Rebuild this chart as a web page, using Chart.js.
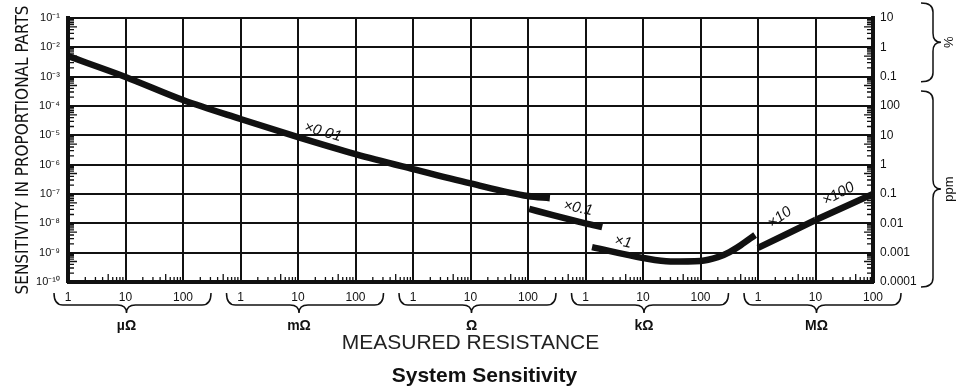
<!DOCTYPE html>
<html>
<head>
<meta charset="utf-8">
<script src="https://cdn.jsdelivr.net/npm/chart.js@4.4.1/dist/chart.umd.min.js"></script>
<style>
  html, body { margin: 0; padding: 0; background: #fff; }
  #wrap { width: 969px; height: 391px; }
</style>
</head>
<body>
<div id="wrap"><canvas id="myChart"></canvas></div>
<script>
// decades on each axis (powers of ten)
const xDecades = [-6, -5, -4, -3, -2, -1, 0, 1, 2, 3, 4, 5, 6, 7, 8];
const yDecades = [-1, -2, -3, -4, -5, -6, -7, -8, -9, -10];

// tick labels
const xTickLabels = ['1', '10', '100', '1', '10', '100', '1', '10', '100', '1', '10', '100', '1', '10', '100'];
const leftTickLabels = ['10⁻¹', '10⁻²', '10⁻³', '10⁻⁴', '10⁻⁵', '10⁻⁶', '10⁻⁷', '10⁻⁸', '10⁻⁹', '10⁻¹⁰'];
const rightTickLabels = ['10', '1', '0.1', '100', '10', '1', '0.1', '0.01', '0.001', '0.0001'];
const unitGroups = ['µΩ', 'mΩ', 'Ω', 'kΩ', 'MΩ'];
const unitBase = [-6, -3, 0, 3, 6];
const rightGroups = ['%', 'ppm'];
const rightGroupSpan = [[-1, -3], [-4, -10]];

// curves: resistance (ohm) vs sensitivity (proportional parts)
const rangeX001 = [1e-6, 1e-5, 1e-4, 1e-3, 1e-2, 1e-1, 1, 10, 100, 240];
const rangeY001 = [5.0e-3, 9.8e-4, 1.6e-4, 3.6e-5, 8.7e-6, 2.3e-6, 7.1e-7, 2.3e-7, 8.5e-8, 7.2e-8];
const rangeX01 = [105, 270, 1000, 1950];
const rangeY01 = [3.1e-8, 1.9e-8, 1.0e-8, 7.4e-9];
const rangeX1 = [1300, 1e4, 3e4, 1e5, 2e5, 3.2e5, 5e5, 8.9e5];
const rangeY1 = [1.55e-9, 6.6e-10, 5.0e-10, 5.2e-10, 7.0e-10, 1.05e-9, 1.8e-9, 4.0e-9];
const rangeX10 = [1e6, 1e7];
const rangeY10 = [1.45e-9, 1.3e-8];
const rangeX100 = [1e7, 1e8];
const rangeY100 = [1.3e-8, 1.0e-7];

// range labels written along the curves
const curveLabelText = ['×0.01', '×0.1', '×1', '×10', '×100'];
const curveLabelX = [0.027, 740, 4500, 2.4e6, 2.5e7];
const curveLabelY = [1.3e-5, 3.3e-8, 2.3e-9, 1.6e-8, 1.0e-7];

const FONT = "'Liberation Sans', Arial, sans-serif";
const NARROW = "'Liberation Sans Narrow', 'DejaVu Sans Condensed', 'Liberation Sans', sans-serif";
const INK = '#111';

const pow10 = e => Number('1e' + e);
const toPoints = (xs, ys) => xs.map((v, i) => ({ x: v, y: ys[i] }));

function curve(xs, ys) {
  return {
    data: toPoints(xs, ys),
    showLine: true,
    borderColor: INK,
    backgroundColor: INK,
    borderWidth: 6.5,
    borderCapStyle: 'butt',
    pointRadius: 0,
    cubicInterpolationMode: 'monotone',
  };
}

function hBrace(ctx, xa, xb, xc, yt, depth, tip) {
  const ym = yt + depth, r = 9;
  ctx.beginPath();
  ctx.moveTo(xa, yt);
  ctx.quadraticCurveTo(xa, ym, xa + r, ym);
  ctx.lineTo(xc - r, ym);
  ctx.quadraticCurveTo(xc, ym, xc, ym + tip);
  ctx.quadraticCurveTo(xc, ym, xc + r, ym);
  ctx.lineTo(xb - r, ym);
  ctx.quadraticCurveTo(xb, ym, xb, yt);
  ctx.stroke();
}

function vBrace(ctx, ya, yb, yc, xl, depth, tip) {
  const xm = xl + depth, r = 9;
  ctx.beginPath();
  ctx.moveTo(xl, ya);
  ctx.quadraticCurveTo(xm, ya, xm, ya + r);
  ctx.lineTo(xm, yc - r);
  ctx.quadraticCurveTo(xm, yc, xm + tip, yc);
  ctx.quadraticCurveTo(xm, yc, xm, yc + r);
  ctx.lineTo(xm, yb - r);
  ctx.quadraticCurveTo(xm, yb, xl, yb);
  ctx.stroke();
}

const decor = {
  id: 'decor',
  afterDraw(chart) {
    const { ctx, chartArea: a } = chart;
    const x = chart.scales.x, y = chart.scales.y;
    ctx.save();

    // inward minor ticks
    ctx.strokeStyle = INK;
    ctx.lineWidth = 1.3;
    ctx.beginPath();
    for (let i = 0; i < xDecades.length - 1; i++) {
      for (let k = 2; k <= 9; k++) {
        const px = x.getPixelForValue(k * pow10(xDecades[i]));
        const len = k === 5 ? 8 : 5;
        ctx.moveTo(px, a.bottom);
        ctx.lineTo(px, a.bottom - len);
      }
    }
    for (let i = 1; i < yDecades.length; i++) {
      for (let k = 2; k <= 9; k++) {
        const py = y.getPixelForValue(k * pow10(yDecades[i]));
        const len = k === 5 ? 9 : 6;
        ctx.moveTo(a.left, py);
        ctx.lineTo(a.left + len, py);
        ctx.moveTo(a.right, py);
        ctx.lineTo(a.right - len, py);
      }
    }
    ctx.stroke();

    // unit braces under the x axis
    ctx.lineWidth = 1.5;
    ctx.fillStyle = INK;
    ctx.textAlign = 'center';
    ctx.textBaseline = 'middle';
    ctx.font = 'bold 14px ' + FONT;
    unitGroups.forEach((u, i) => {
      const b = unitBase[i];
      const xa = x.getPixelForValue(pow10(b)) - 14;
      const xb = x.getPixelForValue(pow10(b + 2)) + 28;
      const xc = x.getPixelForValue(pow10(b + 1)) + 1;
      hBrace(ctx, xa, xb, xc, a.bottom + 11, 12, 8);
      ctx.fillText(u, xc, a.bottom + 44);
    });

    // %, ppm braces on the right
    ctx.font = '13px ' + FONT;
    rightGroups.forEach((g, i) => {
      const ya = y.getPixelForValue(pow10(rightGroupSpan[i][0])) - 15;
      const yb = y.getPixelForValue(pow10(rightGroupSpan[i][1])) + 5;
      const yc = (ya + yb) / 2;
      vBrace(ctx, ya, yb, yc, a.right + 48, 12, 8);
      ctx.save();
      ctx.translate(a.right + 76, yc);
      ctx.rotate(-Math.PI / 2);
      ctx.fillText(g, 0, 0);
      ctx.restore();
    });

    // range labels along the curves
    const angles = [16, 12, 12, -36, -28];
    ctx.font = 'italic 15px ' + FONT;
    curveLabelText.forEach((t, i) => {
      ctx.save();
      ctx.translate(x.getPixelForValue(curveLabelX[i]), y.getPixelForValue(curveLabelY[i]));
      ctx.rotate(angles[i] * Math.PI / 180);
      ctx.fillText(t, 0, 0);
      ctx.restore();
    });

    ctx.restore();
  }
};

const decadeTicks = list => axis => { axis.ticks = list.map(e => ({ value: pow10(e) })); };
const edgeWidth = ctx => (ctx.index === ctx.scale.ticks.length - 1 ? 4 : 2);

new Chart(document.getElementById('myChart'), {
  type: 'scatter',
  data: {
    datasets: [
      curve(rangeX001, rangeY001),
      curve(rangeX01, rangeY01),
      curve(rangeX1, rangeY1),
      curve(rangeX10, rangeY10),
      curve(rangeX100, rangeY100),
    ],
  },
  options: {
    responsive: true,
    maintainAspectRatio: false,
    animation: false,
    layout: { padding: { top: 18 } },
    plugins: {
      legend: { display: false },
      tooltip: { enabled: false },
      title: {
        display: true,
        position: 'bottom',
        text: 'System Sensitivity',
        color: INK,
        font: { family: FONT, size: 21, weight: 'bold' },
        padding: { top: 4, bottom: 2 },
      },
    },
    scales: {
      x: {
        type: 'logarithmic',
        min: 1e-6,
        max: 1e8,
        afterBuildTicks: decadeTicks(xDecades),
        afterFit: s => { s.height = 77.8; },
        ticks: {
          autoSkip: false,
          maxRotation: 0,
          padding: 8,
          color: INK,
          font: { family: FONT, size: 12 },
          callback: (v, i) => xTickLabels[i],
        },
        grid: { color: INK, lineWidth: edgeWidth, drawTicks: false },
        border: { color: INK, width: 3 },
        title: {
          display: true,
          text: 'MEASURED RESISTANCE',
          color: '#222',
          font: { family: FONT, size: 21, lineHeight: 1 },
          padding: { top: 0, bottom: 6 },
        },
      },
      y: {
        type: 'logarithmic',
        position: 'left',
        min: 1e-10,
        max: 1e-1,
        afterBuildTicks: decadeTicks(yDecades),
        afterFit: s => { s.width = 68; },
        ticks: {
          padding: 8,
          color: INK,
          font: { family: FONT, size: 11 },
          callback: v => leftTickLabels[yDecades.indexOf(Math.round(Math.log10(v)))],
        },
        grid: { color: INK, lineWidth: edgeWidth, drawTicks: false },
        border: { color: INK, width: 4 },
        title: {
          display: true,
          text: 'SENSITIVITY IN PROPORTIONAL PARTS',
          color: INK,
          font: { family: NARROW, size: 17 },
          padding: { top: 13, bottom: 0 },
        },
      },
      y2: {
        type: 'logarithmic',
        position: 'right',
        min: 1e-10,
        max: 1e-1,
        afterBuildTicks: decadeTicks(yDecades),
        afterFit: s => { s.width = 96; },
        ticks: {
          padding: 7,
          color: INK,
          font: { family: FONT, size: 12 },
          callback: v => rightTickLabels[yDecades.indexOf(Math.round(Math.log10(v)))],
        },
        grid: { drawOnChartArea: false, drawTicks: false },
        border: { color: INK, width: 4 },
      },
    },
  },
  plugins: [decor],
});
</script>
</body>
</html>
